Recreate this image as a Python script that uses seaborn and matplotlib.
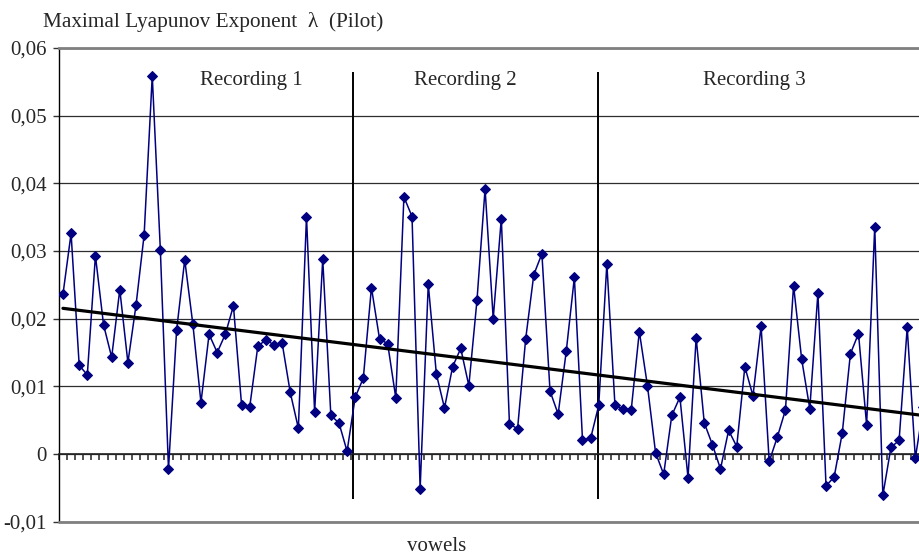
import numpy as np
import pandas as pd
import matplotlib
matplotlib.use("Agg")
import matplotlib.pyplot as plt
import seaborn as sns

# Maximal Lyapunov exponent per vowel, three recordings in sequence
lyapunov = [
    0.0236, 0.0326, 0.0131, 0.0117, 0.0293, 0.0191, 0.0143, 0.0243, 0.0135, 0.0220,
    0.0324, 0.0559, 0.0301, -0.0022, 0.0183, 0.0287, 0.0192, 0.0076, 0.0177, 0.0150,
    0.0177, 0.0219, 0.0073, 0.0069, 0.0159, 0.0169, 0.0161, 0.0164, 0.0091, 0.0038,
    0.0351, 0.0062, 0.0288, 0.0057, 0.0046, 0.0004,
    0.0084, 0.0112, 0.0246, 0.0170, 0.0163, 0.0083, 0.0380, 0.0351, -0.0051, 0.0251,
    0.0118, 0.0068, 0.0129, 0.0156, 0.0101, 0.0227, 0.0392, 0.0200, 0.0348, 0.0045,
    0.0037, 0.0170, 0.0265, 0.0296, 0.0093, 0.0059, 0.0152, 0.0261, 0.0021, 0.0023,
    0.0072, 0.0281, 0.0072, 0.0066, 0.0065, 0.0181, 0.0101, 0.0002, -0.0030, 0.0057,
    0.0084, -0.0035, 0.0172, 0.0046, 0.0014, -0.0022, 0.0035, 0.0011, 0.0129, 0.0086,
    0.0189, -0.0011, 0.0025, 0.0065, 0.0249, 0.0140, 0.0067, 0.0238, -0.0047, -0.0034,
    0.0031, 0.0148, 0.0178, 0.0043, 0.0336, -0.0061, 0.0010, 0.0020, 0.0187, -0.0006,
    0.0070,
]

recording_labels = ["Recording 1", "Recording 2", "Recording 3"]
recording_label_pos = [23.2, 49.6, 85.2]
recording_bounds = [35.7, 65.95]

y_ticks = [-0.01, 0.0, 0.01, 0.02, 0.03, 0.04, 0.05, 0.06]
y_tick_labels = ["-0,01", "0", "0,01", "0,02", "0,03", "0,04", "0,05", "0,06"]

sns.set_style("white")
plt.rcParams["font.family"] = ["Liberation Serif", "DejaVu Serif"]
plt.rcParams["font.size"] = 15

df = pd.DataFrame({"vowel": np.arange(len(lyapunov)), "lam": lyapunov})

W, H = 920, 557
fig = plt.figure(figsize=(W / 100, H / 100), dpi=100)
# plot area runs past the right edge of the figure
ax = fig.add_axes([58.9 / W, (H - 521.7) / H, 868.6 / W, 473.7 / H])

ax.set_axisbelow(True)
ax.yaxis.grid(True, color="#2e2e2e", lw=0.9)

sns.lineplot(data=df, x="vowel", y="lam", ax=ax, color="#000080", lw=1.1,
             marker="D", ms=4.8, mec="#000080", mfc="#000080", zorder=3)
sns.regplot(data=df, x="vowel", y="lam", ax=ax, scatter=False, ci=None,
            truncate=True, line_kws=dict(color="black", lw=2.3, zorder=4))

ax.vlines(recording_bounds, -0.0067, 0.0565, color="black", lw=1.4, zorder=2)
for name, xpos in zip(recording_labels, recording_label_pos):
    ax.text(xpos, 0.0546, name, ha="center", va="baseline", fontsize=15)

ax.set_xlim(-0.5, len(lyapunov) - 0.5)
ax.set_ylim(-0.01, 0.06)
ax.set_yticks(y_ticks)
ax.set_yticklabels(y_tick_labels)
ax.set_xticks(np.arange(-0.5, len(lyapunov), 1.0))
ax.tick_params(axis="x", bottom=True, direction="out", length=4, width=1.1,
               color="#222222", labelbottom=False)
ax.tick_params(axis="y", left=True, direction="out", length=4, width=1,
               color="#333333", pad=5, labelsize=15)
ax.set_xlabel("")
ax.set_ylabel("")

ax.spines["bottom"].set_position(("data", 0))
ax.spines["bottom"].set_color("#222222")
ax.spines["bottom"].set_linewidth(1.2)
ax.spines["bottom"].set_zorder(2.5)
ax.spines["left"].set_color("black")
ax.spines["left"].set_linewidth(1.0)
ax.spines["top"].set_color("#808080")
ax.spines["top"].set_linewidth(2.0)
ax.spines["right"].set_visible(False)
ax.axhline(-0.01, color="#808080", lw=2.0, clip_on=False, zorder=5)

fig.text(43 / W, 1 - 27 / H, "Maximal Lyapunov Exponent  λ  (Pilot)",
         fontsize=15.3, va="baseline", ha="left")
fig.text(437 / W, 1 - 551 / H, "vowels", fontsize=15, va="baseline", ha="center")

fig.savefig("out.png", dpi=100)
